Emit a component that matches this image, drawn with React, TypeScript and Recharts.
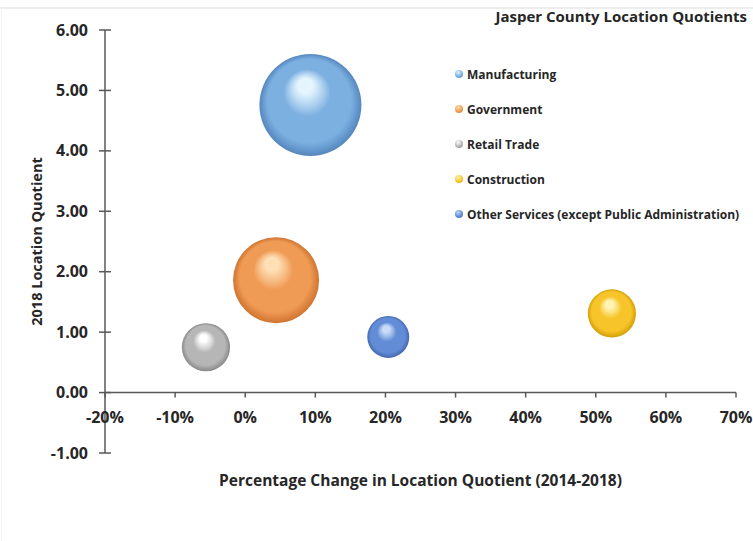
import React from 'react';
import {
  ScatterChart,
  Scatter,
  XAxis,
  YAxis,
  ZAxis,
  ReferenceLine,
} from 'recharts';

// data
const industries = [
  'Manufacturing',
  'Government',
  'Retail Trade',
  'Construction',
  'Other Services (except Public Administration)',
];
const pctChange = [9.3, 4.4, -5.6, 52.3, 20.4]; // % change in LQ 2014-2018
const lq2018 = [4.76, 1.86, 0.75, 1.31, 0.92];
const bubbleSize = [2600, 1850, 580, 580, 440];

const xTicks = [-20, -10, 0, 10, 20, 30, 40, 50, 60, 70];
const yTicks = [-1, 0, 1, 2, 3, 4, 5, 6];

// sphere shading: highlight / base / edge
const sphereColors = [
  ['#e2f4ff', '#7cb0e1', '#5587bd'],
  ['#ffdcae', '#f09b55', '#cf7430'],
  ['#ffffff', '#b6b6b6', '#888888'],
  ['#fff3b0', '#f7c52a', '#d29f06'],
  ['#c4d8f6', '#628dd6', '#4467b0'],
];

const W = 753;
const H = 541;
const TOP = 30;
const X_AXIS_H = 88;
const Y_MIN = -1;
const Y_MAX = 6;
const FONT = '"Open Sans", Lato, sans-serif';
const TEXT = '#262626';
const AXIS = '#595959';

// x axis crosses at y = 0, so shift its ticks up from the plot bottom
const zeroShift = ((H - X_AXIS_H - TOP) * (0 - Y_MIN)) / (Y_MAX - Y_MIN);

const Sphere = (props: any) => {
  const { cx, cy, width, i } = props;
  if (cx == null || cy == null) return null;
  const r = width / 2;
  const [hi, base, edge] = sphereColors[i];
  const id = `sphere-${i}`;
  return (
    <g>
      <defs>
        <radialGradient id={id} cx="50%" cy="50%" r="50%" fx="44%" fy="28%">
          <stop offset="0%" stopColor={hi} />
          <stop offset="14%" stopColor={hi} stopOpacity={0.85} />
          <stop offset="46%" stopColor={base} />
          <stop offset="82%" stopColor={base} />
          <stop offset="100%" stopColor={edge} />
        </radialGradient>
      </defs>
      <circle cx={cx} cy={cy} r={r} fill={`url(#${id})`} />
    </g>
  );
};

const XTick = (props: any) => {
  const { x, y, payload } = props;
  const y0 = y - zeroShift;
  return (
    <g>
      <line x1={x} x2={x} y1={y0} y2={y0 + 5} stroke={AXIS} strokeWidth={1.5} />
      <text x={x} y={y0 + 30} textAnchor="middle" fill={TEXT} fontSize={16} fontWeight={700} fontFamily={FONT}>
        {`${payload.value}%`}
      </text>
    </g>
  );
};

const YTick = (props: any) => {
  const { x, y, payload } = props;
  return (
    <g>
      <line x1={x - 6} x2={x + 6} y1={y} y2={y} stroke={AXIS} strokeWidth={1.5} />
      <text x={x - 17} y={y} dy={5.5} textAnchor="end" fill={TEXT} fontSize={16} fontWeight={700} fontFamily={FONT}>
        {Number(payload.value).toFixed(2)}
      </text>
    </g>
  );
};

const LegendBox = () => (
  <div style={{ position: 'absolute', left: 0, top: 0, width: W, height: H, fontFamily: FONT, color: TEXT, fontWeight: 700, pointerEvents: 'none' }}>
    <div
      style={{
        position: 'absolute',
        right: W - 747,
        top: 6,
        textAlign: 'right',
        fontSize: 15,
        lineHeight: '20px',
        whiteSpace: 'nowrap',
      }}
    >
      Jasper County Location Quotients
    </div>
    {industries.map((name, i) => (
      <div
        key={name}
        style={{
          position: 'absolute',
          left: 455,
          top: 74 + i * 35 - 10,
          height: 20,
          display: 'flex',
          alignItems: 'center',
          fontSize: 12,
          whiteSpace: 'nowrap',
        }}
      >
        <span
          style={{
            display: 'inline-block',
            width: 8,
            height: 8,
            borderRadius: '50%',
            marginRight: 4,
            background: `radial-gradient(circle at 40% 30%, ${sphereColors[i][0]} 0%, ${sphereColors[i][1]} 55%, ${sphereColors[i][2]} 100%)`,
          }}
        />
        {name}
      </div>
    ))}
  </div>
);

export default function App() {
  return (
    <div style={{ position: 'absolute', left: 0, top: 0, width: W, height: H, background: '#fff' }}>
      <div style={{ position: 'absolute', left: 0, top: 7, width: W, height: 0, borderTop: '2px solid #ededed' }} />
      <div style={{ position: 'absolute', left: 1, top: 8, width: 0, height: H - 8, borderLeft: '1px solid #f2f2f2' }} />
      <ScatterChart width={W} height={H} margin={{ top: TOP, right: 17, left: 0, bottom: 0 }}>
        <XAxis
          type="number"
          dataKey="x"
          domain={[-20, 70]}
          ticks={xTicks}
          interval={0}
          height={X_AXIS_H}
          axisLine={false}
          tickLine={false}
          tickSize={0}
          tickMargin={0}
          tick={<XTick />}
          label={(p: any) => {
            const vb = p.viewBox;
            return (
              <text
                x={vb.x + vb.width / 2}
                y={vb.y + 27}
                dominantBaseline="central"
                textAnchor="middle"
                fill={TEXT}
                fontSize={15.5}
                fontWeight={700}
                fontFamily={FONT}
              >
                Percentage Change in Location Quotient (2014-2018)
              </text>
            );
          }}
        />
        <YAxis
          type="number"
          dataKey="y"
          domain={[Y_MIN, Y_MAX]}
          ticks={yTicks}
          interval={0}
          width={105}
          axisLine={{ stroke: AXIS, strokeWidth: 1.5 }}
          tickLine={false}
          tickSize={0}
          tickMargin={0}
          tick={<YTick />}
          label={(p: any) => {
            const vb = p.viewBox;
            const cx = vb.x + 36;
            const cy = vb.y + vb.height / 2;
            return (
              <text
                x={cx}
                y={cy}
                transform={`rotate(-90 ${cx} ${cy})`}
                dominantBaseline="central"
                textAnchor="middle"
                fill={TEXT}
                fontSize={14.5}
                fontWeight={700}
                fontFamily={FONT}
              >
                2018 Location Quotient
              </text>
            );
          }}
        />
        <ZAxis type="number" dataKey="z" domain={[0, 2600]} range={[0, 8170]} />
        <ReferenceLine y={0} stroke={AXIS} strokeWidth={1.5} />
        {industries.map((name, i) => (
          <Scatter
            key={name}
            name={name}
            data={[{ x: pctChange[i], y: lq2018[i], z: bubbleSize[i] }]}
            shape={(p: any) => <Sphere {...p} i={i} />}
            isAnimationActive={false}
          />
        ))}
      </ScatterChart>
      <LegendBox />
    </div>
  );
}
